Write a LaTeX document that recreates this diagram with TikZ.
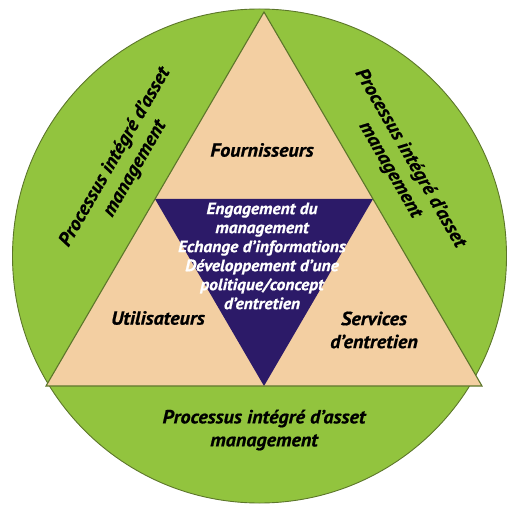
\documentclass[tikz,border=0pt]{standalone}
\usepackage{fontspec}
\setmainfont{PT Sans}[FakeStretch=1.06, BoldItalicFeatures={FakeBold=0.8}]
\usetikzlibrary{calc}
\definecolor{ringgreen}{RGB}{146,196,62}
\definecolor{edgegreen}{RGB}{92,118,42}
\definecolor{tan}{RGB}{243,207,162}
\definecolor{deeppurple}{RGB}{44,26,104}
\tikzset{
  lbl/.style={font=\fontsize{19}{23}\selectfont\bfseries\itshape, text=black, align=center, inner sep=0pt},
  innerlbl/.style={font=\fontsize{16.5}{19}\selectfont\bfseries\itshape, text=white, align=center, inner sep=0pt},
}
\begin{document}
\begin{tikzpicture}[x=1pt,y=-1pt]
\useasboundingbox (0,0) rectangle (507,510);
% outer ring
\fill[ringgreen, draw=edgegreen, line width=0.9pt] (259.5,256) circle[radius=247pt];
% main triangle
\coordinate (A) at (264,12);
\coordinate (B) at (46,386);
\coordinate (C) at (482,386);
\fill[tan] (A) -- (B) -- (C) -- cycle;
% inner triangle (medial)
\coordinate (AB) at ($(A)!0.5!(B)$);
\coordinate (AC) at ($(A)!0.5!(C)$);
\coordinate (BC) at ($(B)!0.5!(C)$);
\fill[deeppurple] (AB) -- (AC) -- (BC) -- cycle;
\draw[edgegreen, line width=1.1pt, line join=miter] (A) -- (B) -- (C) -- cycle;
% labels
\node[lbl] (four) at (262,150) {Fournisseurs};
\node[lbl] (util) at (158,318) {Utilisateurs};
\node[lbl] (serv) at (374,330) {Services\\d’entretien};
\node[lbl] (bottom) at (264,430) {Processus intégré d’asset\\management};
\node[lbl, rotate=60] (left) at (125,163) {Processus intégré d’asset\\management};
\node[lbl, rotate=-60] (right) at (400,164) {Processus intégré d’asset\\management};
\node[innerlbl] (core) at (262,256) {Engagement du\\management\\Echange d’informations\\Développement d’une\\politique/concept\\d’entretien};
\end{tikzpicture}
\end{document}
